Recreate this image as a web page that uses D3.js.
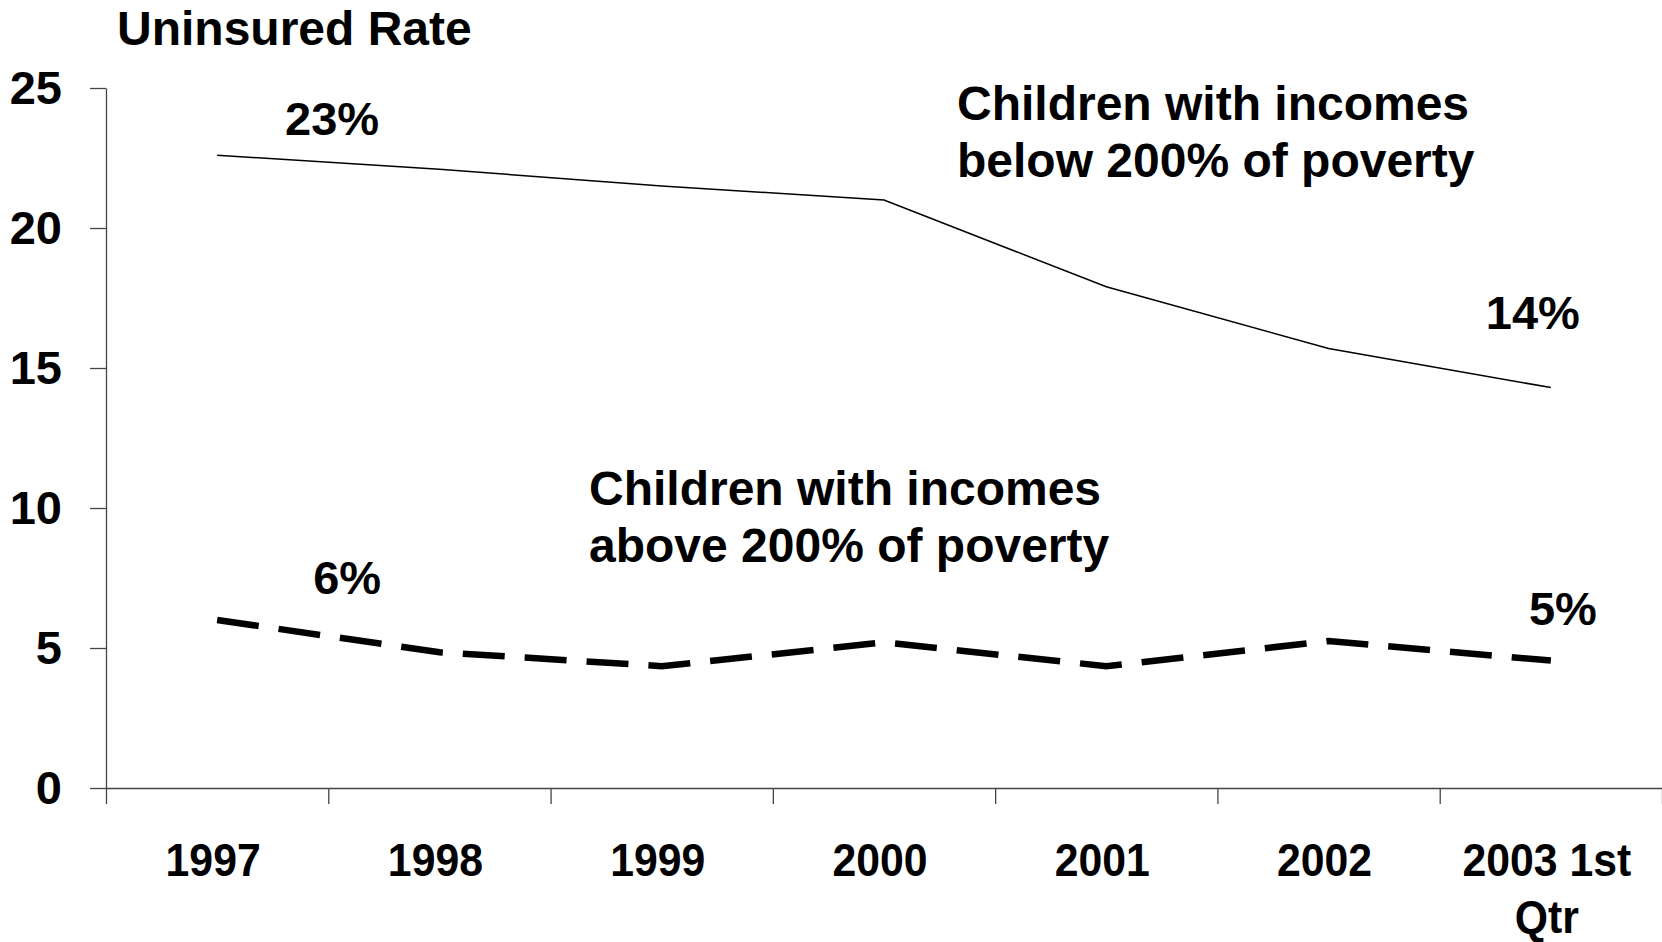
<!DOCTYPE html>
<html>
<head>
<meta charset="utf-8">
<script src="https://cdn.jsdelivr.net/npm/d3@7"></script>
<style>
  html, body { margin: 0; padding: 0; background: #fff; }
  svg { display: block; }
  text { font-family: "Liberation Sans", Arial, Helvetica, sans-serif; font-weight: bold; fill: #000; }
</style>
</head>
<body>
<svg id="chart" width="1662" height="942"></svg>
<script>
// Uninsured rate for children by family income, 1997 – 2003 Q1
const categories = ["1997", "1998", "1999", "2000", "2001", "2002", "2003 1st Qtr"];
const belowPoverty = [22.6, 22.1, 21.5, 21.0, 17.9, 15.7, 14.3];
const abovePoverty = [6.0, 4.85, 4.35, 5.2, 4.35, 5.25, 4.55];
const yTicks = [0, 5, 10, 15, 20, 25];
const yTitle = "Uninsured Rate";
const belowText = ["Children with incomes", "below 200% of poverty"];
const aboveText = ["Children with incomes", "above 200% of poverty"];

const FONT = '"Liberation Sans", Arial, Helvetica, sans-serif';
const svg = d3.select("#chart");

const plot = { left: 106, right: 1662, top: 88, bottom: 788 };

const x = d3.scaleBand().domain(categories).range([plot.left, plot.right]);
const xEdge = d3.scaleLinear().domain([0, categories.length]).range([plot.left, plot.right]);
const y = d3.scaleLinear().domain([0, 25]).range([plot.bottom, plot.top]);
const cx = c => x(c) + x.bandwidth() / 2;

// y axis
const yAxis = svg.append("g")
  .attr("transform", `translate(${plot.left},0)`)
  .call(d3.axisLeft(y).tickValues(yTicks).tickSize(16).tickSizeOuter(0).tickPadding(28));
yAxis.selectAll("path, line").attr("stroke", "#444").attr("stroke-width", 1.3);
yAxis.selectAll("text")
  .attr("font-family", FONT).attr("font-weight", "bold").attr("font-size", 47).attr("fill", "#000");

// x axis: boundary ticks
const xAxis = svg.append("g")
  .attr("transform", `translate(0,${plot.bottom})`)
  .call(d3.axisBottom(xEdge).tickValues(d3.range(0, categories.length + 1))
    .tickFormat("").tickSize(16).tickSizeOuter(0));
xAxis.selectAll("path, line").attr("stroke", "#444").attr("stroke-width", 1.3);

// x axis: category labels centred in each band
const xLabels = svg.append("g")
  .attr("transform", `translate(0,${plot.bottom})`)
  .call(d3.axisBottom(x).tickSize(0).tickPadding(55));
xLabels.select(".domain").remove();
xLabels.selectAll("text")
  .attr("font-family", FONT).attr("font-weight", "bold").attr("font-size", 46).attr("fill", "#000")
  .call(wrap, x.bandwidth() - 10)
  .attr("transform", "translate(-4,0) scale(0.93,1)");

function wrap(texts, width) {
  texts.each(function () {
    const t = d3.select(this);
    const words = t.text().split(/\s+/);
    const yAttr = t.attr("y");
    const dy = parseFloat(t.attr("dy"));
    t.text(null);
    let line = [], lineNo = 0;
    let tspan = t.append("tspan").attr("x", 0).attr("y", yAttr).attr("dy", dy + "em");
    words.forEach(w => {
      line.push(w);
      tspan.text(line.join(" "));
      if (tspan.node().getComputedTextLength() > width && line.length > 1) {
        line.pop();
        tspan.text(line.join(" "));
        line = [w];
        lineNo++;
        tspan = t.append("tspan").attr("x", 0).attr("y", yAttr)
          .attr("dy", (dy + lineNo * 1.24) + "em").text(w);
      }
    });
  });
}

// lines
const line = d3.line()
  .x((d, i) => cx(categories[i]))
  .y(d => y(d));

svg.append("path")
  .datum(belowPoverty)
  .attr("d", line)
  .attr("fill", "none")
  .attr("stroke", "#000")
  .attr("stroke-width", 1.5);

svg.append("path")
  .datum(abovePoverty)
  .attr("d", line)
  .attr("fill", "none")
  .attr("stroke", "#000")
  .attr("stroke-width", 6.5)
  .attr("stroke-dasharray", "42,20")
  .attr("stroke-linejoin", "miter");

// value labels at the first and last points of each series
const valueLabels = [
  { series: belowPoverty, i: 0, dx: 115, dy: -20 },
  { series: belowPoverty, i: 6, dx: -18, dy: -59 },
  { series: abovePoverty, i: 0, dx: 130, dy: -26 },
  { series: abovePoverty, i: 6, dx: 12, dy: -36 }
];
svg.append("g").selectAll("text")
  .data(valueLabels)
  .join("text")
  .attr("x", d => cx(categories[d.i]) + d.dx)
  .attr("y", d => y(d.series[d.i]) + d.dy)
  .attr("text-anchor", "middle")
  .attr("font-size", 47)
  .text(d => Math.round(d.series[d.i]) + "%");

// axis title
svg.append("text")
  .attr("x", 117).attr("y", 45)
  .attr("font-size", 48)
  .text(yTitle);

// series annotations
function annotate(lines, x0, y0) {
  const t = svg.append("text").attr("x", x0).attr("y", y0).attr("font-size", 48);
  lines.forEach((s, k) => {
    t.append("tspan").attr("x", x0).attr("dy", k === 0 ? 0 : 57).text(s);
  });
}
annotate(belowText, 957, 120);
annotate(aboveText, 589, 505);
</script>
</body>
</html>
